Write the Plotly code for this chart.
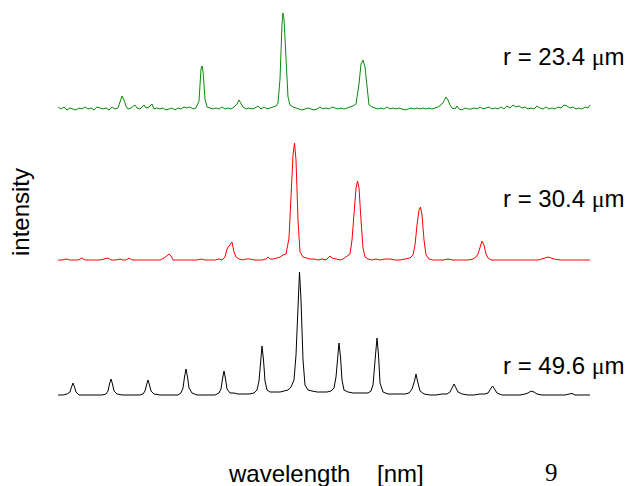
import numpy as np
import plotly.graph_objects as go

# ---------------- data (arbitrary units) ----------------
green_wl = [58,61,64,67,70,73,76,79,82,85,88,91,94,97,100,103,106,109,112,115,118,120,122,124,126,128,131,135,137,140,144,146,149,152,154,157,160,163,166,169,172,175,178,181,184,187,190,193,196,199,201,202,203,205,207,210,213,216,219,222,225,228,231,234,237,239,241,243,246,249,252,255,258,261,264,267,270,273,276,278,280,282,283,284,286,288,290,293,296,299,302,305,308,311,314,317,320,323,326,329,332,335,338,341,344,347,350,353,356,359,361,363,365,367,369,372,375,378,381,384,387,390,393,396,399,402,405,408,411,414,417,420,423,426,429,432,435,438,441,444,446,448,450,452,455,457,459,462,465,468,471,474,477,480,483,486,489,492,495,498,501,504,507,510,513,516,519,522,525,528,531,534,537,540,543,546,549,552,555,558,561,564,567,570,573,576,579,582,585,588,590]
green_int = [2,0,2,-1,1,0,-1,1,0,2,0,1,-1,2,1,0,1,-1,2,0,1,6,13,9,3,0,1,4,1,0,4,1,2,5,0,1,0,1,-1,0,1,-1,1,0,2,1,2,0,1,8,40,43,38,10,2,1,0,1,0,2,0,1,0,2,5,9,6,2,0,1,0,1,3,0,2,0,1,2,3,6,30,85,96,90,45,12,4,2,1,0,-1,0,1,0,-1,0,2,0,1,0,2,1,0,1,0,1,2,3,5,25,45,49,42,20,4,2,1,0,1,0,2,0,1,0,1,0,-1,0,1,0,1,0,1,0,1,0,1,2,4,8,12,9,4,1,0,3,0,-1,1,0,0,1,0,2,0,1,2,0,1,0,2,0,3,1,4,2,3,1,2,0,1,0,3,1,0,2,0,1,0,2,1,4,3,1,2,0,1,0,2,1,4]

red_wl = [58,62,66,70,74,78,82,85,90,95,100,104,108,111,116,120,123,126,129,132,136,140,145,150,155,160,164,167,169,171,173,178,183,188,193,197,201,205,210,215,219,222,225,227,229,232,234,236,239,243,246,250,254,258,262,266,268,270,273,277,280,283,286,289,291,293,294.5,296,298,300,303,306,310,314,318,322,326,328,330,332,335,340,343,346,348,350,352,354,356,357.5,359,361,363,365,368,372,376,380,385,390,395,400,405,410,413,415,417,419,420.5,422,424,426,429,433,438,443,448,453,458,463,468,473,476,478,480,482,484,486,488,491,496,502,508,514,520,526,532,538,542,545,548,551,554,560,566,572,578,584,590]
red_int = [0,0,1,0,0,0,2,0,0,0,0,1,2,0,0,1,0,0,2,0,0,0,0,0,0,0,2,5,6,4,0,0,0,0,0,0,1,0,0,0,1,0,3,11,14,18,8,3,1,0,1,1,0,0,0,1,3,1,1,2,3,5,6,22,60,105,117,100,40,8,3,2,1,1,0,1,0,2,4,2,1,0,1,3,4,6,20,52,72,79,72,40,12,3,1,0,1,0,1,1,0,0,1,2,5,15,35,50,53,45,20,5,1,0,0,0,1,0,0,0,0,1,3,6,13,19,15,6,2,0,0,0,0,0,0,0,0,0,1,2,3,2,1,0,0,0,0,0,0]

black_wl = [58,63,67,70,71.5,73,74.5,76,79,85,91,97,102,106,108,109.5,111,112.5,114,117,122,128,134,140,143,145,146.5,148,149.5,151,154,160,166,172,178,181,183,184.5,186,187.5,189,192,197,203,209,215,219,221,222.5,224,225.5,227,230,234,238,243,249,254,257,259,260.5,262,263.5,265,267,270,273,276,280,284,288,291,294,296,298,299.5,301,303,305,308,312,317,322,327,331,334,336,337.5,339,340.5,342,344,348,353,358,363,368,371,373,375.5,377,378.5,380,383,388,394,400,405,409,412,414.5,416,417.5,420,424,430,436,442,447,450,452.5,454,455.5,458,462,468,474,480,485,488,490.5,492.5,494.5,497,502,508,514,520,525,528,531,534,537,542,548,554,560,565,569,572,575,580,585,590]
black_int = [0,0,1,3,8,12,8,3,0,0,0,0,0,1,4,11,16,11,4,1,0,0,0,0,1,4,10,15,10,4,1,0,0,0,0,2,7,18,26,18,7,2,0,0,0,0,2,6,16,24,16,6,2,2,1,1,1,2,5,14,35,49,35,14,5,3,3,3,3,4,5,8,15,40,90,123,95,35,10,5,4,3,3,3,4,7,18,40,52,38,15,5,3,2,2,2,2,4,10,40,57,40,12,3,1,1,1,1,2,6,14,21,14,4,1,0,0,1,1,3,8,11,8,3,1,0,0,1,1,2,6,9,6,2,0,0,0,0,1,2,4,3,1,0,0,0,0,0,1,1.5,0,0,0,0]

MU = "<span style='font-family:Liberation Serif'>\u03bc</span>"
series_names = ["r = 23.4 " + MU + "m", "r = 30.4 " + MU + "m", "r = 49.6 " + MU + "m"]
series_colors = ["#0a8a0a", "#ff0000", "#000000"]
series_offsets = [377, 226, 91]   # vertical stacking of the spectra
label_y = [57, 199, 365]          # pixel rows of the labels

W, H = 631, 486

fig = go.Figure()
for wl, it, col, off in zip([green_wl, red_wl, black_wl],
                            [green_int, red_int, black_int],
                            series_colors, series_offsets):
    fig.add_trace(go.Scatter(x=wl, y=np.array(it, dtype=float) + off,
                             mode="lines", line=dict(color=col, width=1),
                             showlegend=False, hoverinfo="skip"))

font = dict(family="Liberation Sans, Arial, sans-serif", size=24, color="#000000")
ann = []
for name, ly in zip(series_names, label_y):
    ann.append(dict(x=501 / W, y=1 - ly / H, xref="paper", yref="paper",
                    text=name, showarrow=False, xanchor="left", yanchor="middle",
                    font=font))
ann.append(dict(x=20 / W, y=1 - 212 / H, xref="paper", yref="paper", text="intensity",
                textangle=-90, showarrow=False, xanchor="center", yanchor="middle", font=font))
ann.append(dict(x=226 / W, y=1 - 473 / H, xref="paper", yref="paper", text="wavelength",
                showarrow=False, xanchor="left", yanchor="middle", font=font))
ann.append(dict(x=375 / W, y=1 - 473 / H, xref="paper", yref="paper", text="[nm]",
                showarrow=False, xanchor="left", yanchor="middle", font=font))
ann.append(dict(x=543 / W, y=1 - 472 / H, xref="paper", yref="paper", text="9",
                showarrow=False, xanchor="left", yanchor="middle",
                font=dict(family="Liberation Serif, Times New Roman, serif", size=25, color="#000000")))

fig.update_layout(
    width=W, height=H,
    margin=dict(l=0, r=0, t=0, b=0),
    paper_bgcolor="white", plot_bgcolor="white",
    xaxis=dict(range=[0, W], visible=False, fixedrange=True),
    yaxis=dict(range=[0, H], visible=False, fixedrange=True),
    annotations=ann,
)
fig.write_html("out.html", config={"displayModeBar": False},
               post_script="document.body.style.margin='0px';document.body.style.overflow='hidden';")
